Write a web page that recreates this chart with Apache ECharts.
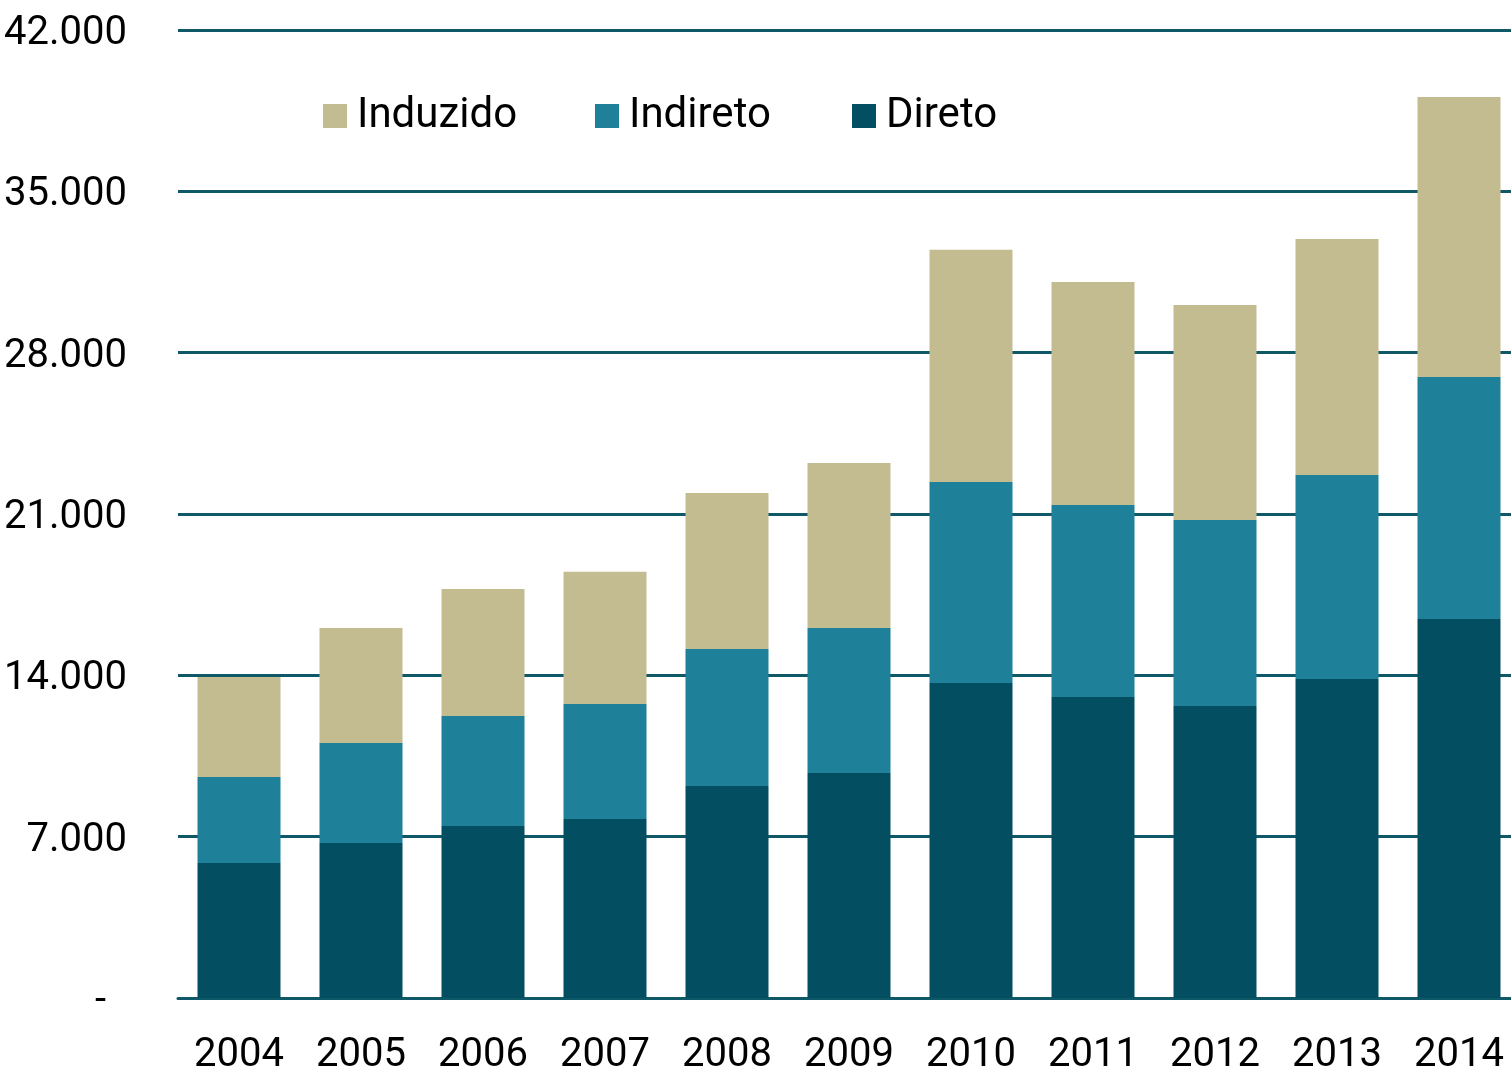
<!DOCTYPE html>
<html>
<head>
    <meta charset="utf-8">
    <title>Emprego</title>
    <script src="https://cdn.jsdelivr.net/npm/echarts@6/dist/echarts.min.js"></script>
    <style>
        html, body { margin: 0; padding: 0; background: #fff; }
        #chart { width: 1511px; height: 1074px; }
    </style>
</head>
<body>
<div id="chart"></div>
<script>
    var anos = ['2004', '2005', '2006', '2007', '2008', '2009', '2010', '2011', '2012', '2013', '2014']
    var direto = [5860, 6725, 7460, 7770, 9200, 9760, 13670, 13060, 12670, 13840, 16440]
    var indireto = [3730, 4340, 4775, 4990, 5945, 6290, 8720, 8330, 8070, 8850, 10500]
    var induzido = [4340, 4990, 5510, 5730, 6770, 7160, 10070, 9680, 9330, 10240, 12150]

    var fonte = "'Liberation Sans Narrow', Roboto, sans-serif"
    var linha = '#0f5868'

    var myChart = echarts.init(document.getElementById('chart'))

    function fmt(v) {
        if (v === 0) return '{z|-}'
        return String(v).replace(/\B(?=(\d{3})+(?!\d))/g, '.')
    }

    // uma legenda por item, para acertar as posições
    function legenda(nome, esquerda) {
        return {
            left: esquerda,
            top: 95,
            padding: 0,
            itemWidth: 24,
            itemHeight: 24,
            icon: 'rect',
            textStyle: { fontSize: 42, color: '#000', fontFamily: fonte, padding: [0, 0, 0, 5] },
            data: [nome]
        }
    }

    myChart.setOption({
        animation: false,
        textStyle: { fontFamily: fonte },
        legend: [
            legenda('Induzido', 323),
            legenda('Indireto', 595),
            legenda('Direto', 852)
        ],
        grid: { left: 178, right: -9, top: 30, bottom: 76, outerBoundsMode: 'none', containLabel: false },
        xAxis: {
            type: 'category',
            data: anos,
            axisLine: { lineStyle: { color: linha, width: 3 } },
            axisTick: { show: false },
            axisLabel: { fontSize: 40, color: '#000', margin: 38, interval: 0, fontFamily: fonte }
        },
        yAxis: {
            type: 'value',
            min: 0,
            max: 42000,
            interval: 7000,
            axisLine: { show: false },
            axisTick: { show: false },
            splitLine: { lineStyle: { color: linha, width: 3 } },
            axisLabel: {
                fontSize: 40, color: '#000', margin: 51, fontFamily: fonte, formatter: fmt,
                padding: [8, 0, 0, 0],
                rich: { z: { fontSize: 40, color: '#000', fontFamily: fonte, padding: [0, 21, 0, 0] } }
            }
        },
        series: [
            { name: 'Direto', type: 'bar', stack: 'total', barWidth: 83, data: direto, itemStyle: { color: '#034f61' } },
            { name: 'Indireto', type: 'bar', stack: 'total', data: indireto, itemStyle: { color: '#1f8199' } },
            { name: 'Induzido', type: 'bar', stack: 'total', data: induzido, itemStyle: { color: '#c3bc91' } }
        ]
    })
</script>
</body>
</html>
